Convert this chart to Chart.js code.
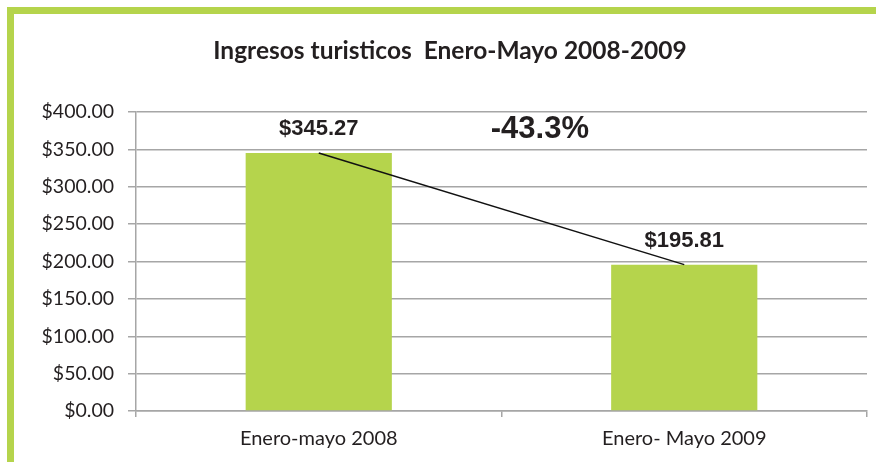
<!DOCTYPE html>
<html>
<head>
<meta charset="utf-8">
<script src="https://cdn.jsdelivr.net/npm/chart.js@4/dist/chart.umd.min.js"></script>
<style>
  html, body { margin: 0; padding: 0; background: #fff; }
  #wrap { position: relative; width: 876px; height: 462px; }
</style>
</head>
<body>
<div id="wrap"><canvas id="canvas" width="876" height="462"></canvas></div>
<script>
const categories = ['Enero-mayo 2008', 'Enero- Mayo 2009']
const ingresos = [345.27, 195.81]
const yTicks = [0, 50, 100, 150, 200, 250, 300, 350, 400]
const titulo = 'Ingresos turisticos  Enero-Mayo 2008-2009'
const cambio = '-43.3%'

const verde = '#b5d44c'
const gris = '#a6a6a6'
const texto = '#231f20'

const fmt = v => '$' + Number(v).toFixed(2)

// green frame top + left, and the title
const marco = {
  id: 'marco',
  beforeDraw(chart) {
    const c = chart.ctx
    c.save()
    c.fillStyle = verde
    c.fillRect(7, 7, 876 - 7, 7)
    c.fillRect(7, 7, 7, 462 - 7)
    c.fillStyle = texto
    c.textAlign = 'center'
    c.textBaseline = 'middle'
    c.font = 'bold 24.5px Lato, sans-serif'
    c.fillText(titulo, 450, 51)
    c.restore()
  }
}

const etiquetas = {
  id: 'etiquetas',
  afterDatasetsDraw(chart) {
    const c = chart.ctx
    const meta = chart.getDatasetMeta(1)
    c.save()
    c.fillStyle = texto
    c.textAlign = 'center'
    c.textBaseline = 'middle'
    c.font = 'bold 22px "Liberation Sans", Arial, sans-serif'
    meta.data.forEach((bar, i) => {
      c.fillText(fmt(ingresos[i]), bar.x, bar.y - 24)
    })
    const x = chart.scales.x.getPixelForValue(0.605)
    const y = chart.scales.y.getPixelForValue(377)
    c.font = 'bold 31px "Liberation Sans", Arial, sans-serif'
    c.fillText(cambio, x, y)
    c.restore()
  }
}

const data = {
  labels: categories,
  datasets: [
    {
      type: 'line',
      data: ingresos,
      borderColor: '#111',
      borderWidth: 1.5,
      pointRadius: 0,
      order: 0,
    },
    {
      type: 'bar',
      data: ingresos,
      backgroundColor: verde,
      categoryPercentage: 1,
      barPercentage: 0.4,
      order: 1,
    },
  ],
}

const config = {
  data: data,
  options: {
    responsive: false,
    animation: false,
    layout: { padding: { left: 0, right: 9, top: 112, bottom: 0 } },
    plugins: {
      legend: { display: false },
      tooltip: { enabled: false },
      title: { display: false },
    },
    scales: {
      x: {
        grid: { drawOnChartArea: false, drawTicks: true, tickLength: 6, color: gris, lineWidth: 1.5 },
        border: { color: gris, width: 1.5 },
        ticks: { color: texto, font: { family: 'Lato', size: 20 }, padding: 10 },
        afterFit(scale) { scale.height = 51 },
      },
      y: {
        min: 0,
        max: 400,
        afterBuildTicks(scale) { scale.ticks = yTicks.map(v => ({ value: v })) },
        grid: { color: gris, lineWidth: 1.5, tickLength: 8 },
        border: { color: gris, width: 1.5 },
        ticks: {
          color: texto,
          font: { family: 'Lato', size: 19.5 },
          padding: 14,
          callback: v => fmt(v),
        },
        afterFit(scale) { scale.width = 136 },
      },
    },
  },
  plugins: [marco, etiquetas],
}

const canvas = document.getElementById('canvas')
const chart = new Chart(canvas, config)
</script>
</body>
</html>
